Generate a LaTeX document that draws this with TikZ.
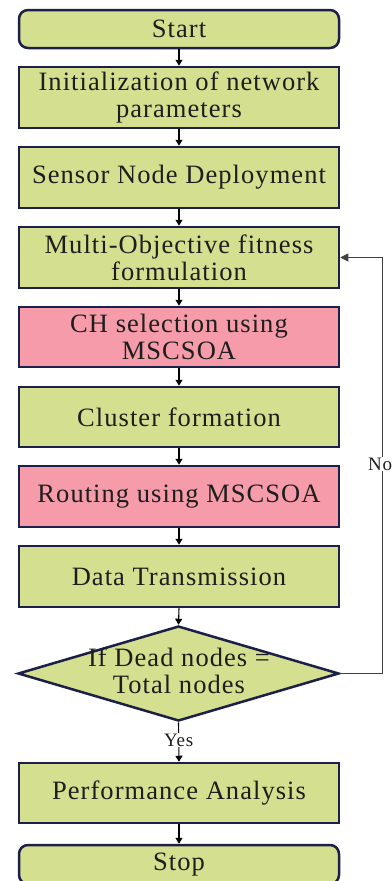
\documentclass[tikz,border=0pt]{standalone}
\usepackage{fontspec}
\setmainfont{Liberation Serif}[LetterSpace=4]
\usetikzlibrary{arrows.meta,shapes.geometric}
\definecolor{boxgreen}{RGB}{212,224,143}
\definecolor{boxpink}{RGB}{245,155,170}
\definecolor{edge}{RGB}{28,31,72}
\definecolor{txt}{RGB}{30,30,30}
\tikzset{
  stepbox/.style={draw=edge, line width=2.5pt, fill=boxgreen, minimum width=320pt, inner sep=0pt, align=center, text=txt, font=\fontsize{26.5}{27}\selectfont},
  pinkbox/.style={stepbox, fill=boxpink},
  termbox/.style={stepbox, rounded corners=9pt},
  flow/.style={draw=black, line width=1.1pt, -{Triangle[length=6pt,width=7pt]}},
  back/.style={draw=black!75, line width=0.8pt, -{Triangle[length=8pt,width=8pt]}},
  lbl/.style={fill=white, inner sep=1pt, text=txt, font=\fontsize{19}{21}\selectfont}
}
\begin{document}
\begin{tikzpicture}[x=1pt,y=1pt]
\useasboundingbox (0,0) rectangle (391,-881);
\node[termbox, minimum height=38pt] (start) at (179,-29) {Start};
\node[stepbox, minimum height=61pt] (init) at (179,-97.5) {Initialization of network\\parameters};
\node[stepbox, minimum height=61pt] (sensor) at (179,-177.5) {Sensor Node Deployment};
\node[stepbox, minimum height=61pt] (multi) at (179,-257.5) {Multi-Objective fitness\\formulation};
\node[pinkbox, minimum height=60pt] (ch) at (179,-337) {CH selection using\\MSCSOA};
\node[stepbox, minimum height=60pt] (cluster) at (179,-417) {Cluster formation};
\node[pinkbox, minimum height=61pt] (routing) at (179,-496.5) {Routing using MSCSOA};
\node[stepbox, minimum height=61pt] (data) at (179,-576.5) {Data Transmission};
\node[diamond, draw=edge, line width=2.5pt, fill=boxgreen, minimum width=321pt, minimum height=95pt, inner sep=0pt] (dia) at (178.5,-673.5) {};
\node[align=center, text=txt, font=\fontsize{26.5}{27}\selectfont] (dtext) at (179,-671) {If Dead nodes =\\Total nodes};
\node[stepbox, minimum height=60pt] (perf) at (179,-793) {Performance Analysis};
\node[termbox, minimum height=39pt] (stop) at (179,-864.5) {Stop};
\coordinate (fb) at (382,-673.5);
\draw[flow] (start.south) -- (init.north);
\draw[flow] (init.south) -- (sensor.north);
\draw[flow] (sensor.south) -- (multi.north);
\draw[flow] (multi.south) -- (ch.north);
\draw[flow] (ch.south) -- (cluster.north);
\draw[flow] (cluster.south) -- (routing.north);
\draw[flow] (routing.south) -- (data.north);
\draw[flow] (data.south) -- (dia.north);
\draw[flow] (dia.south) -- node[lbl, pos=0.45] (yes) {Yes} (perf.north);
\draw[flow] (perf.south) -- (stop.north);
\draw[back] (dia.east) -- (fb) |- (multi.east);
\node[lbl, anchor=west] (no) at (367,-464) {No};
\end{tikzpicture}
\end{document}
